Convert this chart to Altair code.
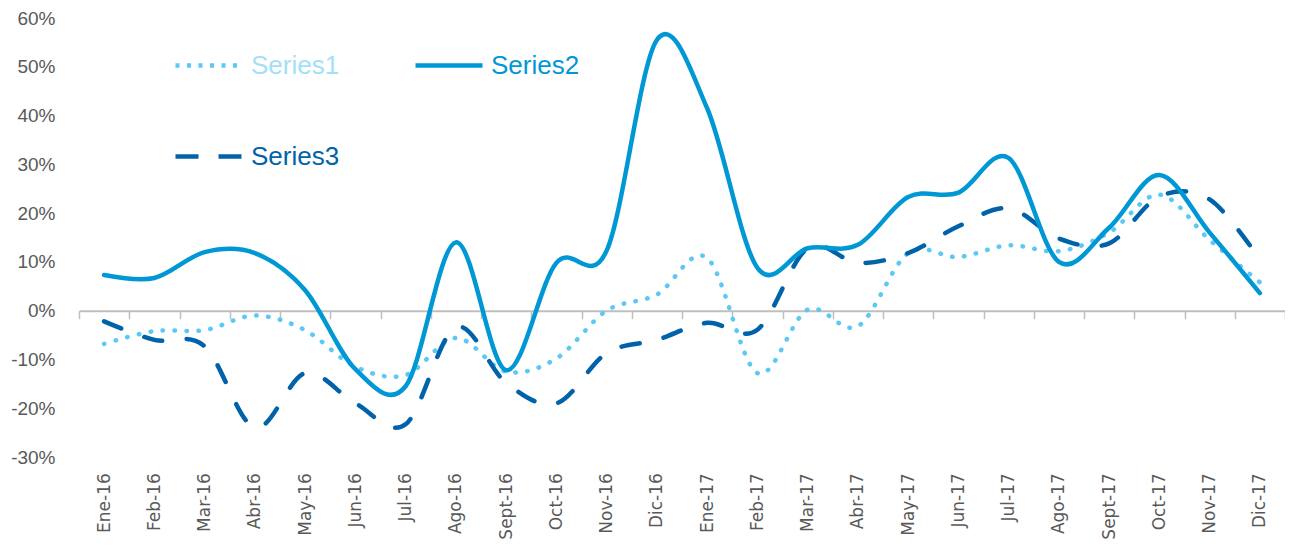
import altair as alt
import pandas as pd

months = ["Ene-16", "Feb-16", "Mar-16", "Abr-16", "May-16", "Jun-16", "Jul-16",
          "Ago-16", "Sept-16", "Oct-16", "Nov-16", "Dic-16", "Ene-17", "Feb-17",
          "Mar-17", "Abr-17", "May-17", "Jun-17", "Jul-17", "Ago-17", "Sept-17",
          "Oct-17", "Nov-17", "Dic-17"]

series1 = [-6.8, -4.2, -4.0, -1.0, -4.0, -11.5, -13.2, -5.6, -12.5, -9.8, 0.0, 3.3,
           10.8, -12.8, 0.2, -3.2, 11.8, 11.0, 13.4, 12.2, 16.0, 23.8, 14.5, 5.8]
series2 = [7.3, 6.7, 12.0, 11.8, 4.2, -12.0, -15.5, 14.0, -12.2, 9.8, 12.3, 55.5,
           41.5, 8.8, 12.8, 13.5, 23.3, 24.2, 31.3, 10.0, 17.0, 27.8, 16.0, 3.6]
series3 = [-2.2, -6.0, -7.3, -24.0, -12.8, -19.0, -23.3, -3.4, -14.8, -19.0, -8.7, -6.0,
           -2.5, -3.9, 12.8, 9.8, 11.8, 17.3, 21.0, 14.8, 13.8, 23.4, 22.8, 10.5]

y_ticks = [-30, -20, -10, 0, 10, 20, 30, 40, 50, 60]

W, H = 1206, 439
Y_MIN, Y_MAX = -30, 60
zero_offset = -H * (0 - Y_MIN) / (Y_MAX - Y_MIN)

x_enc = alt.X(
    "month:N", sort=months,
    scale=alt.Scale(type="band", domain=months, paddingInner=0, paddingOuter=0),
    axis=alt.Axis(title=None, orient="bottom", offset=zero_offset,
                  domainColor="#BFBFBF", domainWidth=2,
                  tickColor="#BFBFBF", tickWidth=1.5, tickSize=8, tickBand="extent",
                  labelAngle=-90, labelPadding=154, labelFontSize=17,
                  labelFont="DejaVu Sans", labelColor="#595959", grid=False),
)
y_enc = alt.Y(
    "value:Q",
    scale=alt.Scale(domain=[Y_MIN, Y_MAX], nice=False, zero=False),
    axis=alt.Axis(title=None, values=y_ticks, labelExpr="datum.value + '%'",
                  domain=False, ticks=False, tickSize=0, grid=False,
                  labelPadding=24, labelFontSize=19,
                  labelFont="Liberation Sans, Arial, sans-serif",
                  labelColor="#595959"),
)


def series_layer(name, values, color, label_color, line_dash, legend_dash, lx, ly):
    d = pd.DataFrame({"month": months, "value": values, "series": name})
    mark_kwargs = dict(interpolate="cardinal", strokeWidth=4.5, strokeCap="round")
    legend_kwargs = dict(title=None, orient="none", legendX=lx, legendY=ly,
                         symbolType="stroke", symbolStrokeWidth=4.5, symbolSize=4489,
                         labelColor=label_color, labelFontSize=26,
                         labelFont="Liberation Sans, Arial, sans-serif",
                         labelOffset=6, padding=0)
    if line_dash:
        mark_kwargs["strokeDash"] = line_dash
    if legend_dash:
        legend_kwargs["symbolDash"] = legend_dash
    return alt.Chart(d).mark_line(**mark_kwargs).encode(
        x=x_enc, y=y_enc,
        color=alt.Color("series:N",
                        scale=alt.Scale(domain=[name], range=[color]),
                        legend=alt.Legend(**legend_kwargs)),
    )


l1 = series_layer("Series1", series1, "#5BC8F5", "#A3DFF9", [0.5, 11.5], [4, 7.5], 94, 11.5)
l2 = series_layer("Series2", series2, "#0098D4", "#0098D4", None, None, 334, 11.5)
l3 = series_layer("Series3", series3, "#0063AA", "#0063AA", [18.5, 24.5], [23, 20], 94, 102.5)

chart = alt.layer(l1, l3, l2).resolve_scale(color="independent").properties(
    width=W, height=H,
    background="white",
    autosize=alt.AutoSizeParams(type="none"),
    padding={"left": 71, "top": 10, "right": 0, "bottom": 84},
).configure_view(stroke=None)

chart.save("out.html", embed_options={"renderer": "svg", "actions": False})
